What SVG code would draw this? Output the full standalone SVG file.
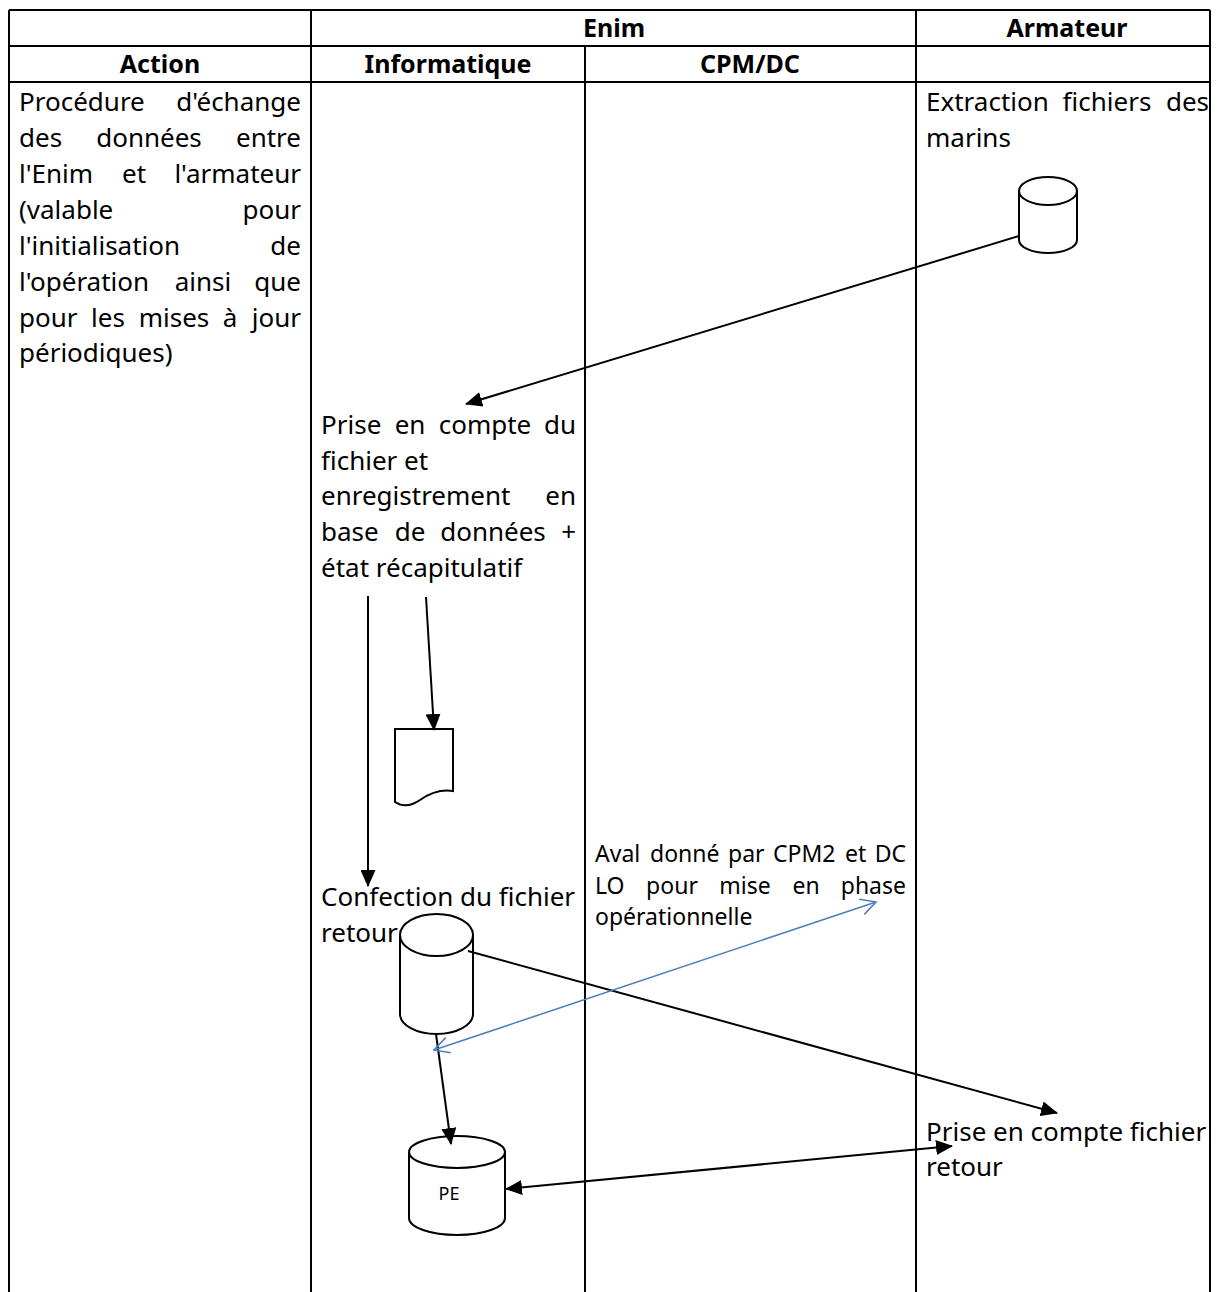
<svg xmlns="http://www.w3.org/2000/svg" width="1219" height="1292" viewBox="0 0 1219 1292">
<style>
.grid{stroke:#000;stroke-width:2;fill:none}
.h{font-family:"Noto Sans","Liberation Sans",sans-serif;font-weight:bold;font-size:25px;fill:#000;text-anchor:middle}
.t{font-family:"Noto Sans","Liberation Sans",sans-serif;font-size:26px;fill:#000}
.s{font-family:"Noto Sans","Liberation Sans",sans-serif;font-size:23px;fill:#000}
.m{text-anchor:middle}
.e{text-anchor:end}
.shape{fill:#fff;stroke:#000;stroke-width:2}
.c{stroke:#000;stroke-width:2;fill:none}
.b{stroke:#4f81bd;stroke-width:1.6;fill:none}
</style>
<defs>
<marker id="ah" markerUnits="userSpaceOnUse" markerWidth="17" markerHeight="15" refX="16" refY="7.5" orient="auto-start-reverse" viewBox="0 0 17 15"><path d="M0,0 L17,7.5 L0,15 z" fill="#000"/></marker>
<marker id="bh" markerUnits="userSpaceOnUse" markerWidth="18" markerHeight="18" refX="16" refY="9" orient="auto-start-reverse" viewBox="0 0 18 18"><path d="M1,1 L16,9 L1,17" fill="none" stroke="#4f81bd" stroke-width="1.6"/></marker>
</defs>
<rect width="1219" height="1292" fill="#fff"/>
<g id="table">
<path class="grid" d="M9,10 H1210 M9,46 H1210 M9,82 H1210 M9,10 V1292 M311,10 V1292 M585,46 V1292 M916,10 V1292 M1210,10 V1292"/>
<text class="h" x="614" y="37">Enim</text>
<text class="h" x="1067" y="37">Armateur</text>
<text class="h" x="160" y="73">Action</text>
<text class="h" x="448" y="73">Informatique</text>
<text class="h" x="750" y="73">CPM/DC</text>
</g>
<g id="action-text" class="t">
<text x="19" y="111">Procédure</text><text class="e" x="301" y="111">d'échange</text>
<text x="19" y="147">des</text><text class="m" x="149" y="147">données</text><text class="e" x="301" y="147">entre</text>
<text x="19" y="183">l'Enim</text><text class="m" x="134" y="183">et</text><text class="e" x="301" y="183">l'armateur</text>
<text x="19" y="219">(valable</text><text class="e" x="301" y="219">pour</text>
<text x="19" y="255">l'initialisation</text><text class="e" x="301" y="255">de</text>
<text x="19" y="291">l'opération</text><text class="m" x="203" y="291">ainsi</text><text class="e" x="301" y="291">que</text>
<text x="19" y="327">pour</text><text class="m" x="108" y="327">les</text><text class="m" x="174" y="327">mises</text><text class="m" x="230" y="327">à</text><text class="e" x="301" y="327">jour</text>
<text x="19" y="362">périodiques)</text>
</g>
<g id="extraction" class="t">
<text x="926" y="111">Extraction</text><text class="m" x="1107" y="111">fichiers</text><text class="e" x="1209" y="111">des</text>
<text x="926" y="147">marins</text>
</g>
<g id="cyl-armateur">
<path class="shape" d="M1019,191 V240 A29,13 0 0 0 1077,240 V191 A29,14 0 0 0 1019,191 Z"/>
<path class="c" d="M1019,191 A29,14 0 0 0 1077,191"/>
</g>
<g id="prise-compte" class="t">
<text x="321" y="434">Prise</text><text class="m" x="410" y="434">en</text><text class="m" x="485" y="434">compte</text><text class="e" x="576" y="434">du</text>
<text x="321" y="470">fichier et</text>
<text x="321" y="505">enregistrement</text><text class="e" x="576" y="505">en</text>
<text x="321" y="541">base</text><text class="m" x="410" y="541">de</text><text class="m" x="493" y="541">données</text><text class="e" x="576" y="541">+</text>
<text x="321" y="577">état récapitulatif</text>
</g>
<g id="document">
<path class="shape" d="M395,729 H453 V791 C440,789 430,793 420,800 C410,807 401,806 395,802 Z"/>
</g>
<g id="confection" class="t">
<text x="321" y="906">Confection du fichier</text>
<text x="321" y="942">retour</text>
</g>
<g id="cyl-retour">
<path class="shape" d="M400,935 V1014 A36.5,20 0 0 0 473,1014 V935 A36.5,21 0 0 0 400,935 Z"/>
<path class="c" d="M400,935 A36.5,21 0 0 0 473,935"/>
</g>
<g id="aval" class="s">
<text x="595" y="862">Aval</text><text x="650" y="862">donné</text><text x="728" y="862">par</text><text x="773" y="862">CPM2</text><text x="845" y="862">et</text><text class="e" x="906" y="862">DC</text>
<text x="595" y="894">LO</text><text class="m" x="672" y="894">pour</text><text class="m" x="745" y="894">mise</text><text class="m" x="806" y="894">en</text><text class="e" x="906" y="894">phase</text>
<text x="595" y="925">opérationnelle</text>
</g>
<g id="cyl-pe">
<path class="shape" d="M409,1152 V1218 A48,17 0 0 0 505,1218 V1152 A48,16 0 0 0 409,1152 Z"/>
<path class="c" d="M409,1152 A48,16 0 0 0 505,1152"/>
<text x="449" y="1200" text-anchor="middle" font-family="Noto Sans, Liberation Sans, sans-serif" font-size="18" fill="#000">PE</text>
</g>
<g id="prise-retour" class="t">
<text x="926" y="1141">Prise en compte fichier</text>
<text x="926" y="1176">retour</text>
</g>
<g id="connectors">
<path class="c" d="M1019,236 L466,404" marker-end="url(#ah)"/>
<path class="c" d="M368,596 L368,886" marker-end="url(#ah)"/>
<path class="c" d="M426,597 L434,730" marker-end="url(#ah)"/>
<path class="c" d="M468,951 L1057,1113" marker-end="url(#ah)"/>
<path class="c" d="M436,1034 L451,1144" marker-end="url(#ah)"/>
<path class="c" d="M952,1146 L506,1189" marker-start="url(#ah)" marker-end="url(#ah)"/>
<path class="b" d="M434,1050 L876,902" marker-start="url(#bh)" marker-end="url(#bh)"/>
</g>
</svg>
